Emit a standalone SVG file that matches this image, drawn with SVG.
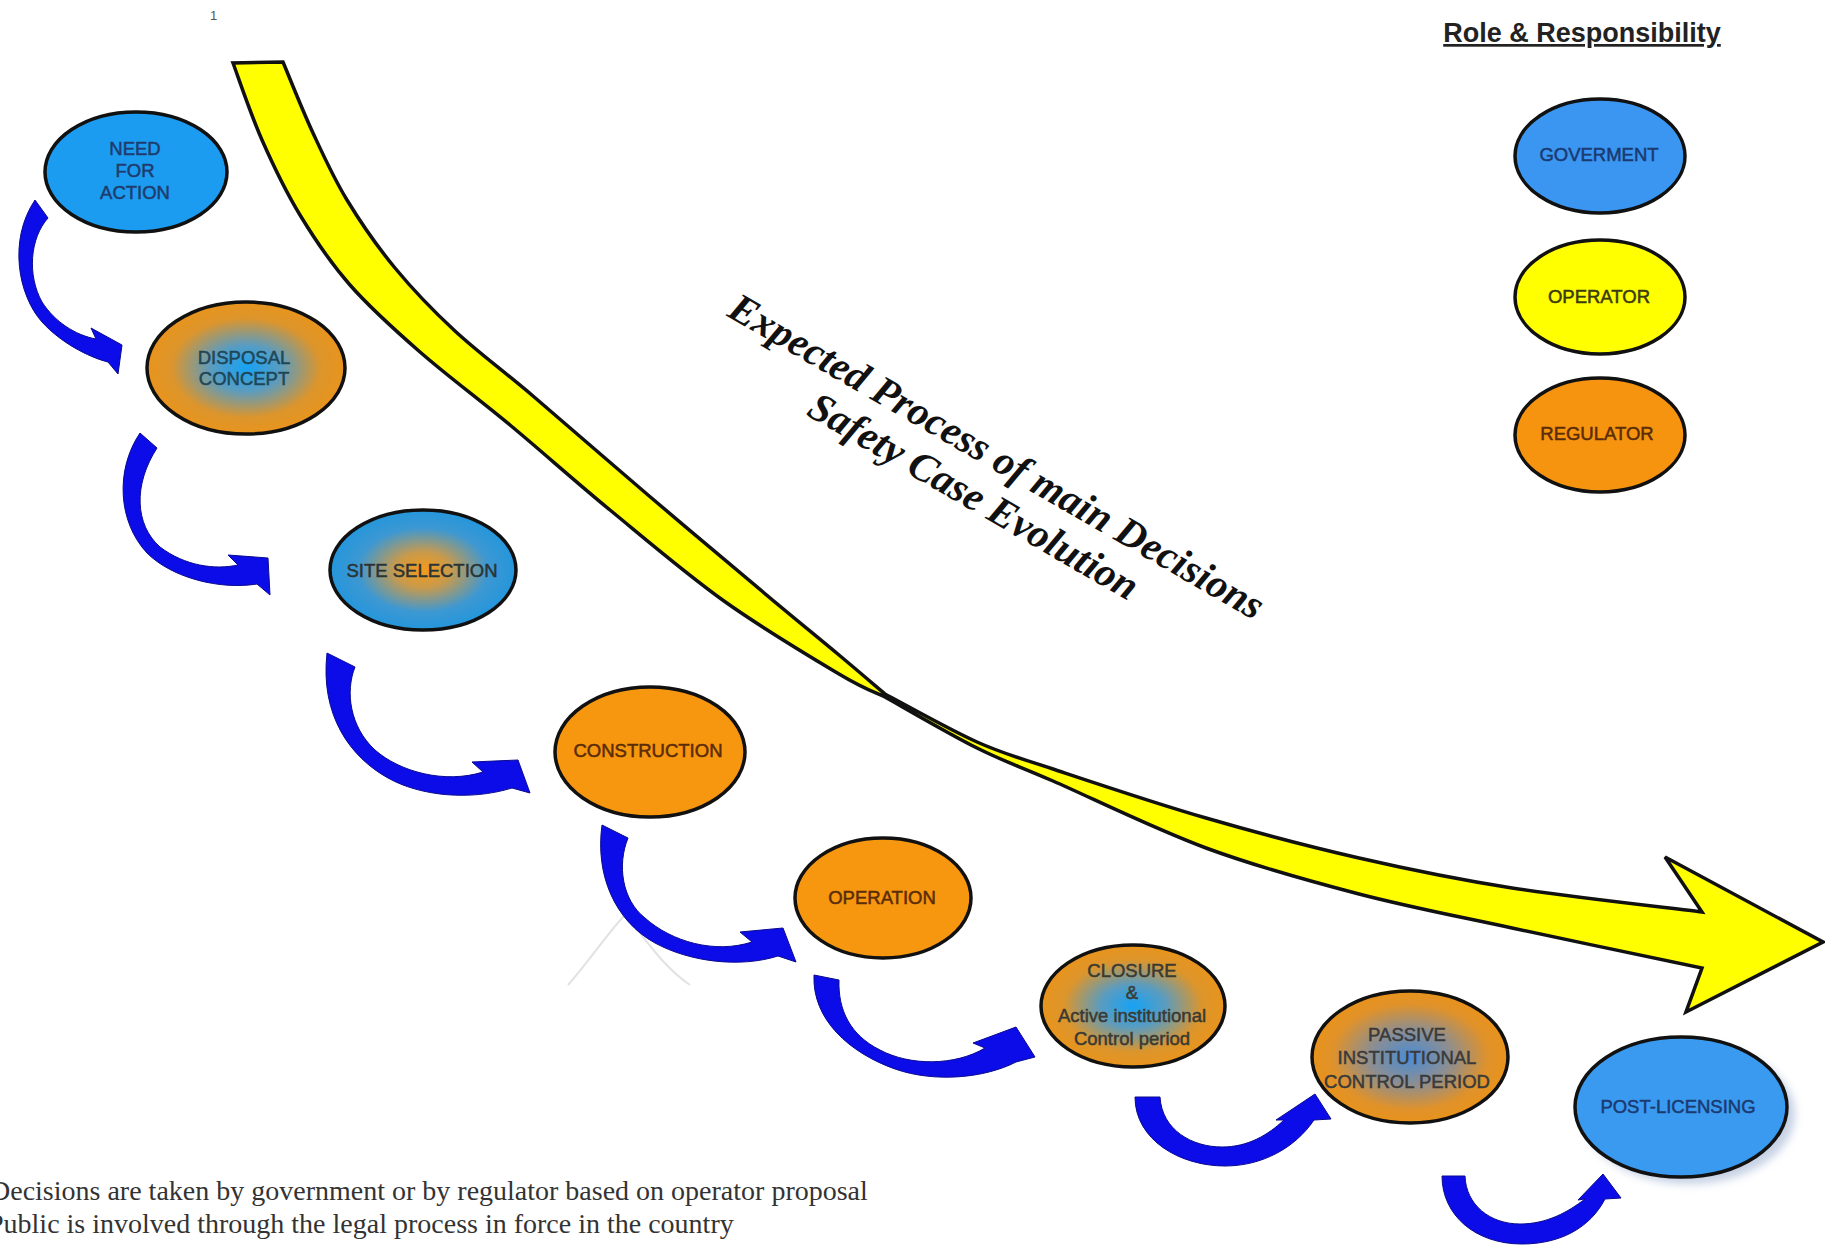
<svg xmlns="http://www.w3.org/2000/svg" width="1825" height="1255" viewBox="0 0 1825 1255">
<defs>
<radialGradient id="gBO" cx="50%" cy="50%" r="50%">
<stop offset="0" stop-color="#16a2f4"/>
<stop offset="0.35" stop-color="#5a9cc0"/>
<stop offset="0.75" stop-color="#dc952c"/>
<stop offset="1" stop-color="#e8941c"/>
</radialGradient>
<radialGradient id="gOB" cx="50%" cy="50%" r="50%">
<stop offset="0" stop-color="#f49a1a"/>
<stop offset="0.3" stop-color="#c89a4c"/>
<stop offset="0.7" stop-color="#3d98d2"/>
<stop offset="1" stop-color="#2496dc"/>
</radialGradient>
<radialGradient id="gPB" cx="50%" cy="50%" r="50%">
<stop offset="0" stop-color="#4a8cd4"/>
<stop offset="0.4" stop-color="#8a8e94"/>
<stop offset="0.8" stop-color="#e0922a"/>
<stop offset="1" stop-color="#e8921c"/>
</radialGradient>
<filter id="blur" x="-20%" y="-20%" width="140%" height="140%">
<feGaussianBlur stdDeviation="4"/>
</filter>
<style>
.node{stroke:#111;stroke-width:3.5}
.lbl{font-family:"Liberation Sans",Arial,sans-serif;font-size:18.5px;text-anchor:middle;stroke-width:0.5px}
.arr{fill:#0c0ce8;stroke:#0a0a90;stroke-width:1}
</style>
</defs>
<rect width="1825" height="1255" fill="#ffffff"/>

<text x="210" y="20" font-family="Liberation Sans, Arial, sans-serif" font-size="13" fill="#555">1</text>

<path d="M 568,985 C 590,960 610,930 625,915 C 640,930 660,965 690,985" fill="none" stroke="#e2e2e2" stroke-width="2"/>

<g id="process-arrow">
<path fill="#ffff00" stroke="#111" stroke-width="3.5" stroke-linejoin="miter" d="M 233,63 C 237.8,75.8 250.8,114.7 262,140 C 273.2,165.3 285.3,190.8 300,215 C 314.7,239.2 330,262.2 350,285 C 370,307.8 393.3,328.7 420,352 C 446.7,375.3 478.3,398.7 510,425 C 541.7,451.3 574.3,480.7 610,510 C 645.7,539.3 685.8,573.7 724,601 C 762.2,628.3 812.2,658 839,674 C 865.8,690 877.3,693.2 885,697 C 900.3,705.5 949,734 977,748 C 1005,762 1014.8,764.3 1053,781 C 1091.2,797.7 1155,829.2 1206,848 C 1257,866.8 1308,880.7 1359,894 C 1410,907.3 1454.8,915.7 1512,928 C 1569.2,940.3 1670.3,961.3 1702,968 L 1686,1012 L 1823,942 L 1665,857 L 1702,912 C 1670.3,908 1569.2,897 1512,888 C 1454.8,879 1410,869.7 1359,858 C 1308,846.3 1257,832.8 1206,818 C 1155,803.2 1091.2,781.7 1053,769 C 1014.8,756.3 1005,754.5 977,742 C 949,729.5 900.3,702 885,694 C 877.3,687.5 859.3,672 839,655 C 818.7,638 794.8,618.7 763,592 C 731.2,565.3 686.3,527.7 648,495 C 609.7,462.3 565.2,423.3 533,396 C 500.8,368.7 478,352.3 455,331 C 432,309.7 413,289.8 395,268 C 377,246.2 360.7,222.5 347,200 C 333.3,177.5 323.7,156 313,133 C 302.3,110 288,73.8 283,62 Z"/>
<g transform="translate(990,468) rotate(30)" font-family="Liberation Serif, Times New Roman, serif" font-weight="bold" font-style="italic" font-size="41" fill="#111" text-anchor="middle">
<text x="0" y="0">Expected Process of main Decisions</text>
<text x="0" y="46">Safety Case Evolution</text>
</g>
</g>

<g id="connectors">
<path class="arr" d="M 35,200 L 48,218 C 30,238 27,275 42,302 C 55,322 75,335 96,339 L 91,328 L 122,345 L 118,374 L 108,362 C 88,357 60,342 42,322 C 18,295 8,240 35,200 Z"/>
<path class="arr" d="M 140,433 L 157,448 C 133,485 135,525 160,547 C 185,566 215,570 238,565 L 228,555 L 268,558 L 270,595 L 257,584 C 220,590 172,578 147,553 C 118,522 115,470 140,433 Z"/>
<path class="arr" d="M 327,653 L 355,667 C 345,692 350,727 375,750 C 400,772 445,784 483,772 L 472,762 L 518,760 L 530,793 L 512,788 C 470,801 420,796 388,778 C 350,757 320,715 327,653 Z"/>
<path class="arr" d="M 602,825 L 628,838 C 617,865 622,900 645,918 C 672,942 715,954 752,942 L 740,932 L 783,928 L 796,962 L 778,956 C 740,968 690,962 655,943 C 615,921 595,875 602,825 Z"/>
<path class="arr" d="M 814,975 L 839,980 C 838,1010 850,1035 880,1050 C 910,1066 955,1066 985,1048 L 973,1043 L 1016,1027 L 1035,1057 L 1016,1062 C 985,1078 935,1083 895,1069 C 850,1053 812,1020 814,975 Z"/>
<path class="arr" d="M 1135,1097 L 1160,1097 C 1162,1130 1192,1147 1222,1147 C 1248,1147 1268,1135 1284,1120 L 1276,1120 L 1315,1094 L 1331,1119 L 1314,1120 C 1295,1148 1262,1166 1225,1166 C 1180,1166 1135,1140 1135,1097 Z"/>
<path class="arr" d="M 1442,1176 L 1465,1176 C 1466,1205 1490,1224 1520,1224 C 1547,1224 1568,1212 1585,1199 L 1578,1200 L 1603,1174 L 1621,1198 L 1605,1199 C 1590,1228 1560,1244 1522,1244 C 1475,1244 1442,1215 1442,1176 Z"/>
</g>

<g id="need-for-action">
<ellipse class="node" cx="136" cy="172" rx="91" ry="60" fill="#1c9cf0"/>
<g class="lbl" fill="#1e3c6e" stroke="#1e3c6e">
<text x="135" y="155">NEED</text>
<text x="135" y="177">FOR</text>
<text x="135" y="199">ACTION</text>
</g>
</g>

<g id="disposal-concept">
<ellipse class="node" cx="246" cy="368" rx="99" ry="66" fill="url(#gBO)"/>
<g class="lbl" fill="#1f4656" stroke="#1f4656">
<text x="244" y="364">DISPOSAL</text>
<text x="244" y="385">CONCEPT</text>
</g>
</g>

<g id="site-selection">
<ellipse class="node" cx="423" cy="570" rx="93" ry="60" fill="url(#gOB)"/>
<text class="lbl" x="422" y="577" fill="#2a3434" stroke="#2a3434">SITE SELECTION</text>
</g>

<g id="construction">
<ellipse class="node" cx="650" cy="752" rx="95" ry="65" fill="#f7960f"/>
<text class="lbl" x="648" y="757" fill="#5a2c08" stroke="#5a2c08">CONSTRUCTION</text>
</g>

<g id="operation">
<ellipse class="node" cx="883" cy="898" rx="88" ry="60" fill="#f7960f"/>
<text class="lbl" x="882" y="904" fill="#5a2c08" stroke="#5a2c08">OPERATION</text>
</g>

<g id="closure">
<ellipse class="node" cx="1133" cy="1006" rx="92" ry="61" fill="url(#gBO)"/>
<g class="lbl" fill="#3a3a32" stroke="#3a3a32">
<text x="1132" y="977">CLOSURE</text>
<text x="1132" y="999">&amp;</text>
<text x="1132" y="1022">Active institutional</text>
<text x="1132" y="1045">Control period</text>
</g>
</g>

<g id="passive-institutional-control-period">
<ellipse class="node" cx="1410" cy="1057" rx="98" ry="66" fill="url(#gPB)"/>
<g class="lbl" fill="#3a3a3a" stroke="#3a3a3a">
<text x="1407" y="1041">PASSIVE</text>
<text x="1407" y="1064">INSTITUTIONAL</text>
<text x="1407" y="1088">CONTROL PERIOD</text>
</g>
</g>

<g id="post-licensing">
<ellipse cx="1689" cy="1114" rx="106" ry="70" fill="#b8c6de" opacity="0.8" filter="url(#blur)"/>
<ellipse class="node" cx="1681" cy="1107" rx="106" ry="70" fill="#3a9af0"/>
<text class="lbl" x="1678" y="1113" fill="#1a3a70" stroke="#1a3a70">POST-LICENSING</text>
</g>

<g id="legend">
<text x="1582" y="42" font-family="Liberation Sans, Arial, sans-serif" font-weight="bold" font-size="27" fill="#222" text-anchor="middle" text-decoration="underline">Role &amp; Responsibility</text>
<g id="legend-government">
<ellipse class="node" cx="1600" cy="156" rx="85" ry="57" fill="#3a96f0"/>
<text class="lbl" x="1599" y="161" fill="#1a3a70" stroke="#1a3a70">GOVERMENT</text>
</g>
<g id="legend-operator">
<ellipse class="node" cx="1600" cy="297" rx="85" ry="57" fill="#ffff00"/>
<text class="lbl" x="1599" y="303" fill="#3a3a10" stroke="#3a3a10">OPERATOR</text>
</g>
<g id="legend-regulator">
<ellipse class="node" cx="1600" cy="435" rx="85" ry="57" fill="#f7940f"/>
<text class="lbl" x="1597" y="440" fill="#5a2c08" stroke="#5a2c08">REGULATOR</text>
</g>
</g>

<g id="notes" font-family="Liberation Serif, Times New Roman, serif" font-size="28" fill="#333">
<text x="-10" y="1200">Decisions are taken by government or by regulator based on operator proposal</text>
<text x="-12" y="1233">Public is involved through the legal process in force in the country</text>
</g>
</svg>
